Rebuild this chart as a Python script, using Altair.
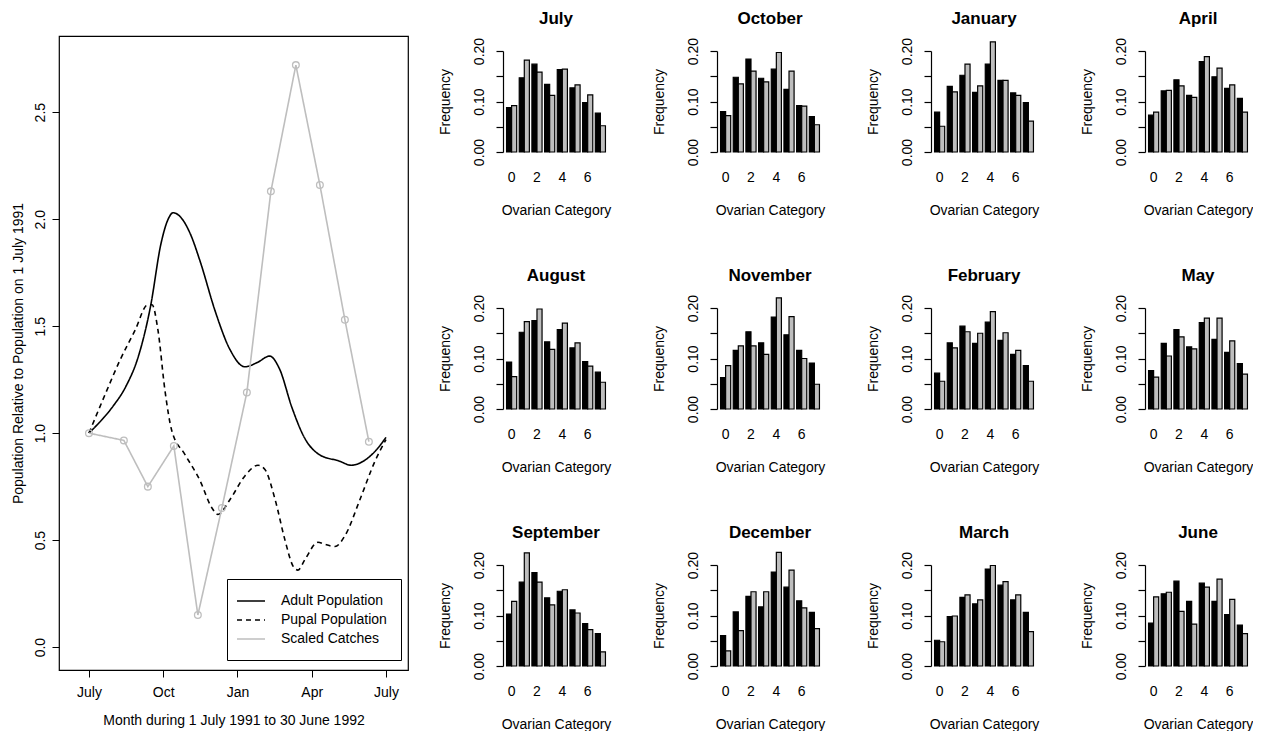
import altair as alt
import pandas as pd

FONT = "Liberation Sans"
GRAY = "#bebebe"

# ---------------- left panel data ----------------
SERIES = ["Adult Population", "Pupal Population", "Scaled Catches"]

ADULT_MONTH = [0, 0.5, 1.0, 1.5, 2.0, 2.5, 2.9, 3.2, 3.4, 3.7, 4.1, 4.5, 5.1, 5.7, 6.3, 6.8, 7.3, 7.7, 8.2, 8.7, 9.3, 10.1, 10.6, 11.1, 11.6, 12.0]
ADULT_VALUE = [1.00, 1.06, 1.13, 1.22, 1.36, 1.60, 1.88, 2.00, 2.03, 2.01, 1.93, 1.80, 1.57, 1.39, 1.31, 1.33, 1.36, 1.30, 1.12, 0.98, 0.90, 0.87, 0.85, 0.87, 0.92, 0.98]

PUPAL_MONTH = [0, 0.65, 1.25, 1.86, 2.38, 2.55, 2.79, 3.07, 3.35, 3.88, 4.48, 4.97, 5.21, 5.70, 6.30, 6.83, 7.11, 7.52, 7.92, 8.24, 8.44, 8.73, 9.25, 9.54, 9.94, 10.34, 10.95, 11.56, 12.0]
PUPAL_VALUE = [1.00, 1.18, 1.34, 1.48, 1.60, 1.60, 1.48, 1.20, 1.01, 0.90, 0.78, 0.65, 0.62, 0.69, 0.80, 0.85, 0.83, 0.69, 0.50, 0.38, 0.36, 0.41, 0.49, 0.48, 0.47, 0.52, 0.69, 0.87, 0.97]

CATCH_MONTH = [0, 1.41, 2.38, 3.43, 4.40, 5.37, 6.38, 7.35, 8.36, 9.33, 10.34, 11.31]
CATCH_VALUE = [1.00, 0.966, 0.75, 0.94, 0.15, 0.65, 1.19, 2.13, 2.72, 2.16, 1.53, 0.96]

MONTH_TICKS = [0, 3, 6, 9, 12]
MONTH_TICK_LABELS = ["July", "Oct", "Jan", "Apr", "July"]
POP_TICKS = [0, 0.5, 1.0, 1.5, 2.0, 2.5]

# ---------------- small panel data ----------------
CATEGORIES = [0, 1, 2, 3, 4, 5, 6, 7]
FREQ_TICKS = [0, 0.05, 0.10, 0.15, 0.20]

JUL_B = [0.088, 0.147, 0.174, 0.134, 0.163, 0.127, 0.098, 0.077]
JUL_G = [0.092, 0.182, 0.158, 0.112, 0.164, 0.133, 0.113, 0.052]
OCT_B = [0.080, 0.148, 0.184, 0.146, 0.164, 0.124, 0.092, 0.070]
OCT_G = [0.072, 0.135, 0.160, 0.139, 0.197, 0.160, 0.091, 0.054]
JAN_B = [0.079, 0.130, 0.152, 0.118, 0.174, 0.142, 0.117, 0.098]
JAN_G = [0.051, 0.119, 0.174, 0.131, 0.218, 0.142, 0.112, 0.061]
APR_B = [0.073, 0.121, 0.143, 0.112, 0.179, 0.149, 0.126, 0.106]
APR_G = [0.079, 0.122, 0.131, 0.108, 0.189, 0.166, 0.133, 0.079]
AUG_B = [0.093, 0.152, 0.175, 0.133, 0.157, 0.121, 0.094, 0.073]
AUG_G = [0.064, 0.173, 0.198, 0.118, 0.170, 0.131, 0.085, 0.053]
NOV_B = [0.062, 0.116, 0.153, 0.131, 0.182, 0.147, 0.116, 0.091]
NOV_G = [0.086, 0.125, 0.125, 0.108, 0.220, 0.183, 0.100, 0.049]
FEB_B = [0.071, 0.131, 0.164, 0.130, 0.172, 0.136, 0.108, 0.086]
FEB_G = [0.055, 0.121, 0.153, 0.150, 0.193, 0.151, 0.116, 0.055]
MAY_B = [0.076, 0.130, 0.157, 0.123, 0.171, 0.138, 0.112, 0.090]
MAY_G = [0.063, 0.105, 0.143, 0.119, 0.180, 0.180, 0.135, 0.069]
SEP_B = [0.103, 0.166, 0.185, 0.135, 0.148, 0.111, 0.084, 0.064]
SEP_G = [0.128, 0.224, 0.166, 0.121, 0.151, 0.105, 0.072, 0.028]
DEC_B = [0.060, 0.107, 0.138, 0.117, 0.186, 0.156, 0.129, 0.106]
DEC_G = [0.030, 0.070, 0.147, 0.147, 0.225, 0.190, 0.115, 0.074]
MAR_B = [0.051, 0.098, 0.136, 0.123, 0.192, 0.160, 0.131, 0.106]
MAR_G = [0.048, 0.099, 0.141, 0.131, 0.199, 0.167, 0.141, 0.068]
JUN_B = [0.085, 0.143, 0.168, 0.128, 0.164, 0.128, 0.102, 0.081]
JUN_G = [0.137, 0.146, 0.108, 0.083, 0.156, 0.172, 0.132, 0.064]

GRID = [
    [("July", JUL_B, JUL_G), ("October", OCT_B, OCT_G), ("January", JAN_B, JAN_G), ("April", APR_B, APR_G)],
    [("August", AUG_B, AUG_G), ("November", NOV_B, NOV_G), ("February", FEB_B, FEB_G), ("May", MAY_B, MAY_G)],
    [("September", SEP_B, SEP_G), ("December", DEC_B, DEC_G), ("March", MAR_B, MAR_G), ("June", JUN_B, JUN_G)],
]

# ---------------- left chart ----------------
smooth_df = pd.concat([
    pd.DataFrame({"month": ADULT_MONTH, "value": ADULT_VALUE, "series": SERIES[0]}),
    pd.DataFrame({"month": PUPAL_MONTH, "value": PUPAL_VALUE, "series": SERIES[1]}),
])
catch_df = pd.DataFrame({"month": CATCH_MONTH, "value": CATCH_VALUE, "series": SERIES[2]})

LW, LH = 349, 634
XMIN, XMAX = -1.21, 12.89
YMIN, YMAX = -0.107, 2.856

xenc = alt.X("month:Q", scale=alt.Scale(domain=[XMIN, XMAX], nice=False, zero=False),
             axis=alt.Axis(values=MONTH_TICKS,
                           labelExpr=str(MONTH_TICK_LABELS) + "[round(datum.value/3)]",
                           title="Month during 1 July 1991 to 30 June 1992",
                           grid=False, domain=False, tickSize=7, tickColor="black",
                           labelPadding=8, titlePadding=14, labelFontSize=14, titleFontSize=14,
                           titleFontWeight="normal", labelColor="black", titleColor="black"))
yenc = alt.Y("value:Q", scale=alt.Scale(domain=[YMIN, YMAX], nice=False, zero=False),
             axis=alt.Axis(values=POP_TICKS, format=".1f",
                           title="Population Relative to Population on 1 July 1991",
                           grid=False, domain=False, tickSize=7, tickColor="black",
                           labelAngle=-90, labelAlign="center", labelBaseline="bottom",
                           labelPadding=5, titlePadding=8, labelFontSize=14, titleFontSize=14,
                           titleFontWeight="normal", labelColor="black", titleColor="black"))

color_scale = alt.Scale(domain=SERIES, range=["black", "black", GRAY])
dash_scale = alt.Scale(domain=SERIES, range=[[1, 0], [5, 4], [1, 0]])
legend = alt.Legend(orient="none", legendX=168, legendY=543, title=None,
                    strokeColor="black", fillColor="white", padding=14,
                    labelFont=FONT, labelFontSize=14, labelColor="black",
                    symbolType="M-2,0H2", symbolSize=196, symbolStrokeWidth=1.5,
                    symbolOffset=2, symbolFillColor="transparent",
                    rowPadding=4, labelOffset=22, cornerRadius=0)

smooth = alt.Chart(smooth_df).mark_line(interpolate="monotone", strokeWidth=1.6).encode(
    x=xenc, y=yenc,
    color=alt.Color("series:N", scale=color_scale, legend=legend),
    strokeDash=alt.StrokeDash("series:N", scale=dash_scale, legend=legend),
    detail="series:N",
)
catch_line = alt.Chart(catch_df).mark_line(strokeWidth=1.6).encode(
    x=xenc, y=yenc,
    color=alt.Color("series:N", scale=color_scale, legend=legend),
    strokeDash=alt.StrokeDash("series:N", scale=dash_scale, legend=legend),
)
catch_pts = alt.Chart(catch_df).mark_point(shape="circle", filled=False, color=GRAY,
                                           size=45, strokeWidth=1.3, opacity=1).encode(x=xenc, y=yenc)

left = alt.layer(smooth, catch_line, catch_pts).properties(
    width=LW, height=LH,
    title=alt.TitleParams(" ", fontSize=9, offset=1),
    view=alt.ViewBackground(stroke="black", strokeWidth=1.2),
)

# ---------------- small panels ----------------
PW, PH = 106, 116


def panel(name, b, g):
    df = pd.DataFrame({
        "cat": CATEGORIES + CATEGORIES,
        "group": ["a"] * len(CATEGORIES) + ["b"] * len(CATEGORIES),
        "freq": b + g,
    })
    return alt.Chart(df).mark_bar(stroke="black", strokeWidth=1.2).encode(
        x=alt.X("cat:O", scale=alt.Scale(paddingInner=0.2, paddingOuter=0.28),
                axis=alt.Axis(title="Ovarian Category", labelAngle=0,
                              labelExpr="datum.value % 2 == 0 ? datum.label : ''",
                              domain=False, ticks=False, tickSize=0, labelPadding=18,
                              titlePadding=19, labelFontSize=14, titleFontSize=14,
                              titleFontWeight="normal", labelColor="black", titleColor="black")),
        xOffset=alt.XOffset("group:N", scale=alt.Scale(domain=["a", "b"], paddingInner=0, paddingOuter=0)),
        y=alt.Y("freq:Q", scale=alt.Scale(domain=[0, 0.2], range=[PH, 15], nice=False, zero=True),
                axis=alt.Axis(values=FREQ_TICKS, title="Frequency",
                              labelExpr="(datum.value > 0.04 && datum.value < 0.06) || (datum.value > 0.14 && datum.value < 0.16) ? '' : format(datum.value, '.2f')",
                              grid=False, domainColor="black", domainWidth=1.2,
                              tickColor="black", tickWidth=1.2, tickSize=7,
                              labelAngle=-90, labelAlign="center", labelBaseline="bottom",
                              labelPadding=10, titlePadding=20, labelFontSize=14, titleFontSize=14,
                              titleFontWeight="normal", labelColor="black", titleColor="black")),
        color=alt.Color("group:N", scale=alt.Scale(domain=["a", "b"], range=["black", GRAY]), legend=None),
    ).properties(
        width=PW, height=PH,
        title=alt.TitleParams(name, fontSize=17, fontWeight="bold", font=FONT, offset=8, color="black"),
    )


rows = [alt.hconcat(*[panel(n, b, g) for (n, b, g) in row], spacing=41) for row in GRID]
grid = alt.vconcat(*rows, spacing=50)

chart = alt.hconcat(left, grid, spacing=29).resolve_scale(
    color="independent", strokeDash="independent"
).properties(
    padding={"left": 10, "top": 10, "right": 0, "bottom": 0}
).configure(font=FONT).configure_view(stroke=None).configure_axis(
    labelFont=FONT, titleFont=FONT
)

chart.save("out.html", embed_options={"renderer": "svg", "actions": False})
